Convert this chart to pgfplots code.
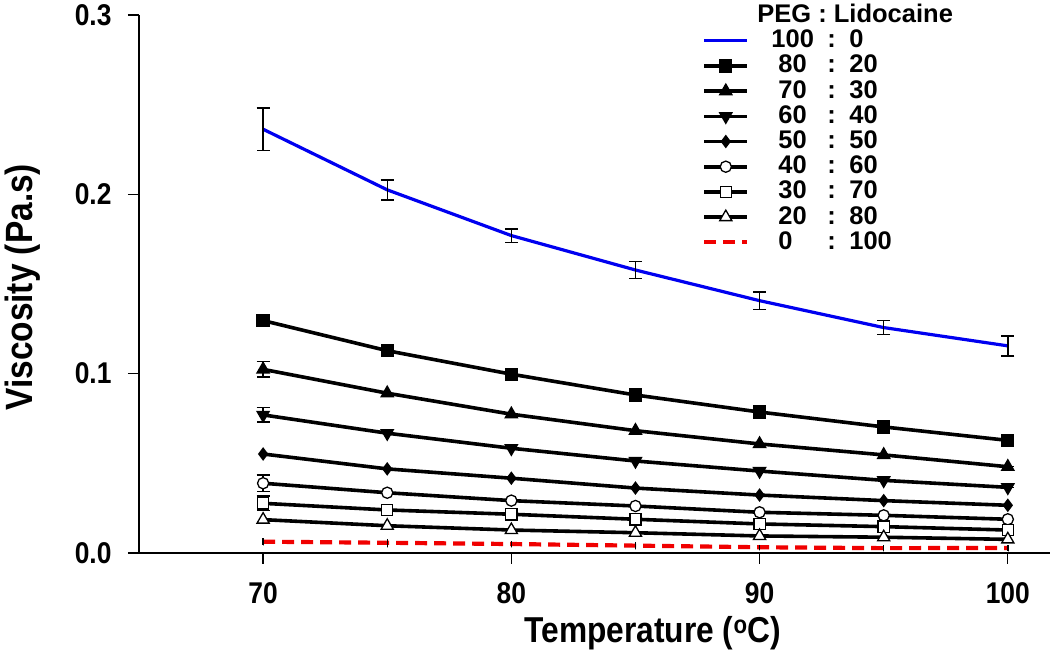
\documentclass[border=0pt]{standalone}
\usepackage{fontspec}
\setmainfont{Liberation Sans}
\newfontfamily\cond{Liberation Sans}[FakeStretch=0.88]
\usepackage{pgfplots}
\pgfplotsset{compat=1.18}
\definecolor{pblue}{RGB}{0,0,240}
\definecolor{pred}{RGB}{240,0,0}
\pgfplotsset{
  ebar/.style={error bars/.cd, y dir=both, y explicit,
    error bar style={black, line width=1.4pt, solid},
    error mark options={black, line width=1.4pt, mark size=6.5pt, solid, rotate=90}},
  blk/.style={black, line width=3.6pt, mark options={solid, line width=1.3pt}},
}
\begin{document}
\begin{tikzpicture}
\begin{axis}[
  at={(139pt,99pt)}, anchor=south west,
  scale only axis, width=911pt, height=538pt,
  xmin=65, xmax=101.7, ymin=0, ymax=0.3,
  clip=false,
  axis x line=bottom, axis y line=left,
  axis line style={-, line width=1.3pt},
  xtick={70,80,90,100}, ytick={0,0.1,0.2,0.3},
  minor tick num=0,
  tick align=outside, major tick length=11pt,
  tick style={line width=1.3pt, black},
  yticklabel style={xshift=-13pt, /pgf/number format/.cd, fixed, fixed zerofill, precision=1},
  /pgf/number format/assume math mode=true,
  ticklabel style={font=\cond\bfseries\fontsize{30}{30}\selectfont},
  xticklabel style={yshift=-15pt},
  xlabel={Temperature (\textsuperscript{o}C)},
  ylabel={Viscosity (Pa.s)},
  label style={font=\cond\bfseries\fontsize{36}{36}\selectfont},
  xlabel style={at={(axis description cs:0.564,-0.149)}, anchor=center},
  ylabel style={at={(axis description cs:-0.128,0.494)}, anchor=center, font=\cond\bfseries\fontsize{38}{38}\selectfont},
  legend style={at={(axis description cs:0.618,1.018)}, anchor=north west,
    draw=none, fill=none, inner sep=0pt,
    font=\bfseries\fontsize{25.5}{25.5}\selectfont,
    nodes={inner xsep=0pt, inner ysep=0pt, text height=17pt, text depth=3pt},
    row sep=5.2pt,
    /tikz/every odd column/.append style={column sep=22pt}},
  legend cell align=left,
  legend image code/.code={\draw[mark repeat=2,mark phase=2] plot coordinates {(0pt,0pt)(21.5pt,0pt)(43pt,0pt)};},
]
\addlegendimage{empty legend}
\addlegendentry{\hspace*{-14pt}PEG : Lidocaine}

\addplot[pblue, line width=3.2pt, ebar] coordinates {
  (70,0.2363) +- (0,0.0119)
  (75,0.2025) +- (0,0.0056)
  (80,0.1770) +- (0,0.0037)
  (85,0.1578) +- (0,0.0048)
  (90,0.1407) +- (0,0.0049)
  (95,0.1257) +- (0,0.0039)
  (100,0.1155) +- (0,0.0056)
};
\addlegendentry{\makebox[56pt][l]{100}\makebox[22pt][l]{:}0}

\addplot[blk, mark=square*, mark size=6pt] coordinates {
  (70,0.1296) (75,0.1128) (80,0.0997) (85,0.0881) (90,0.0786) (95,0.0703) (100,0.0628)
};
\addlegendentry{\hspace*{7pt}\makebox[49pt][l]{80}\makebox[22pt][l]{:}20}

\addplot[blk, mark=triangle*, mark size=7pt, ebar] coordinates {
  (70,0.1024) +- (0,0.0043)
  (75,0.0891) +- (0,0)
  (80,0.0774) +- (0,0)
  (85,0.0682) +- (0,0)
  (90,0.0608) +- (0,0)
  (95,0.0547) +- (0,0)
  (100,0.0481) +- (0,0)
};
\addlegendentry{\hspace*{7pt}\makebox[49pt][l]{70}\makebox[22pt][l]{:}30}

\addplot[blk, mark=triangle*, mark size=7pt, mark options={solid, line width=1.3pt, rotate=180}, ebar] coordinates {
  (70,0.0770) +- (0,0.004)
  (75,0.0668) +- (0,0)
  (80,0.0584) +- (0,0)
  (85,0.0513) +- (0,0)
  (90,0.0457) +- (0,0)
  (95,0.0405) +- (0,0)
  (100,0.0366) +- (0,0)
};
\addlegendentry{\hspace*{7pt}\makebox[49pt][l]{60}\makebox[22pt][l]{:}40}

\addplot[blk, mark=diamond*, mark size=5.8pt] coordinates {
  (70,0.0552) (75,0.0469) (80,0.0417) (85,0.0362) (90,0.0323) (95,0.0292) (100,0.0266)
};
\addlegendentry{\hspace*{7pt}\makebox[49pt][l]{50}\makebox[22pt][l]{:}50}

\addplot[blk, mark=*, mark size=5.6pt, mark options={solid, line width=1.3pt, fill=white}, ebar] coordinates {
  (70,0.0389) +- (0,0.0046)
  (75,0.0336) +- (0,0)
  (80,0.0292) +- (0,0)
  (85,0.0262) +- (0,0)
  (90,0.0227) +- (0,0)
  (95,0.0210) +- (0,0)
  (100,0.0188) +- (0,0)
};
\addlegendentry{\hspace*{7pt}\makebox[49pt][l]{40}\makebox[22pt][l]{:}60}

\addplot[blk, mark=square*, mark size=5.6pt, mark options={solid, line width=1.3pt, fill=white}, ebar] coordinates {
  (70,0.0277) +- (0,0.004)
  (75,0.0240) +- (0,0)
  (80,0.0216) +- (0,0)
  (85,0.0188) +- (0,0)
  (90,0.0162) +- (0,0)
  (95,0.0147) +- (0,0)
  (100,0.0128) +- (0,0)
};
\addlegendentry{\hspace*{7pt}\makebox[49pt][l]{30}\makebox[22pt][l]{:}70}

\addplot[blk, mark=triangle*, mark size=7pt, mark options={solid, line width=1.3pt, fill=white}] coordinates {
  (70,0.0186) (75,0.0152) (80,0.0128) (85,0.0113) (90,0.0095) (95,0.0088) (100,0.0076)
};
\addlegendentry{\hspace*{7pt}\makebox[49pt][l]{20}\makebox[22pt][l]{:}80}

\addplot[pred, line width=4.2pt, dash pattern=on 12pt off 7pt,
  error bars/.cd, y dir=both, y explicit,
  error bar style={black, line width=1.4pt, solid},
  error mark options={mark size=0.01pt, black}] coordinates {
  (70,0.0063) +- (0,0.0018)
  (75,0.0057) +- (0,0.0022)
  (80,0.0050) +- (0,0.0018)
  (85,0.0041) +- (0,0.0018)
  (90,0.0032) +- (0,0.0015)
  (95,0.0027) +- (0,0.0015)
  (100,0.0028) +- (0,0.0015)
};
\addlegendentry{\hspace*{7pt}\makebox[49pt][l]{0}\makebox[22pt][l]{:}100}
\end{axis}
\pgfresetboundingbox
\useasboundingbox (0,0) rectangle (1050pt,652pt);
\end{tikzpicture}
\end{document}
